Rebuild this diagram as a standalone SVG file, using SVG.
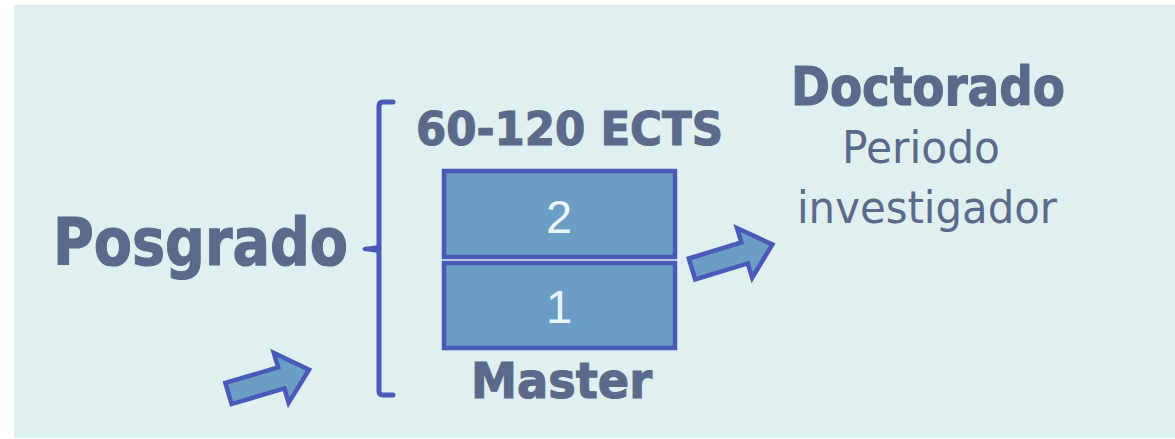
<svg xmlns="http://www.w3.org/2000/svg" width="1175" height="439" viewBox="0 0 1175 439">
<defs>
<style>
.t{fill:#5b6a8a;font-family:"DejaVu Sans",Verdana,sans-serif}
.b{font-weight:bold;stroke:#5b6a8a;stroke-width:1.2}
.box{fill:#6a9ec4;stroke:#4a5ab8;stroke-width:4.5}
.num{fill:#eef4f8;font-family:"Liberation Sans",Arial,sans-serif;font-size:47px}
.arr{fill:#6a9ec4;stroke:#4a5ab8;stroke-width:4.5;stroke-linejoin:miter}
.br{fill:none;stroke:#4a5ab8;stroke-width:5;stroke-linecap:round;stroke-linejoin:round}
</style>
<path id="ar" d="M0,-11 L55,-11 L55,-26 L84,0 L55,26 L55,11 L0,11 Z"/>
</defs>
<rect x="0" y="0" width="1175" height="439" fill="#ffffff"/>
<rect x="14" y="5" width="1161" height="433" fill="#e0f0f0"/>
<g id="posgrado">
<text class="t b" x="53" y="265" font-size="65" textLength="295" lengthAdjust="spacingAndGlyphs">Posgrado</text>
</g>
<g id="brace">
<path class="br" d="M393,102 L383,102 Q379,102 379,106 L379,391 Q379,395 383,395 L393,395"/>
<path d="M379,245 L364,247 Q361,249 364,251 L379,253 Z" fill="#4a5ab8"/>
</g>
<g id="ects">
<text class="t b" x="416" y="145" font-size="46" textLength="307" lengthAdjust="spacingAndGlyphs">60-120 ECTS</text>
</g>
<g id="box2">
<rect class="box" x="444" y="171" width="231" height="86"/>
<text class="num" x="559" y="233" text-anchor="middle">2</text>
</g>
<g id="box1">
<rect class="box" x="444" y="263" width="231" height="85"/>
<text class="num" x="559" y="323" text-anchor="middle">1</text>
</g>
<g id="master">
<text class="t b" x="471" y="398" font-size="49" textLength="181" lengthAdjust="spacingAndGlyphs">Master</text>
</g>
<g id="doctorado">
<text class="t b" x="791" y="105" font-size="53" textLength="274" lengthAdjust="spacingAndGlyphs">Doctorado</text>
<text class="t" x="842" y="163" font-size="45" textLength="158" lengthAdjust="spacingAndGlyphs">Periodo</text>
<text class="t" x="797" y="223" font-size="45" textLength="260" lengthAdjust="spacingAndGlyphs">investigador</text>
</g>
<g id="connectors">
<use href="#ar" class="arr" transform="translate(228.5,393.5) rotate(-16.5)"/>
<use href="#ar" class="arr" transform="translate(692,269) rotate(-17)"/>
</g>
</svg>
